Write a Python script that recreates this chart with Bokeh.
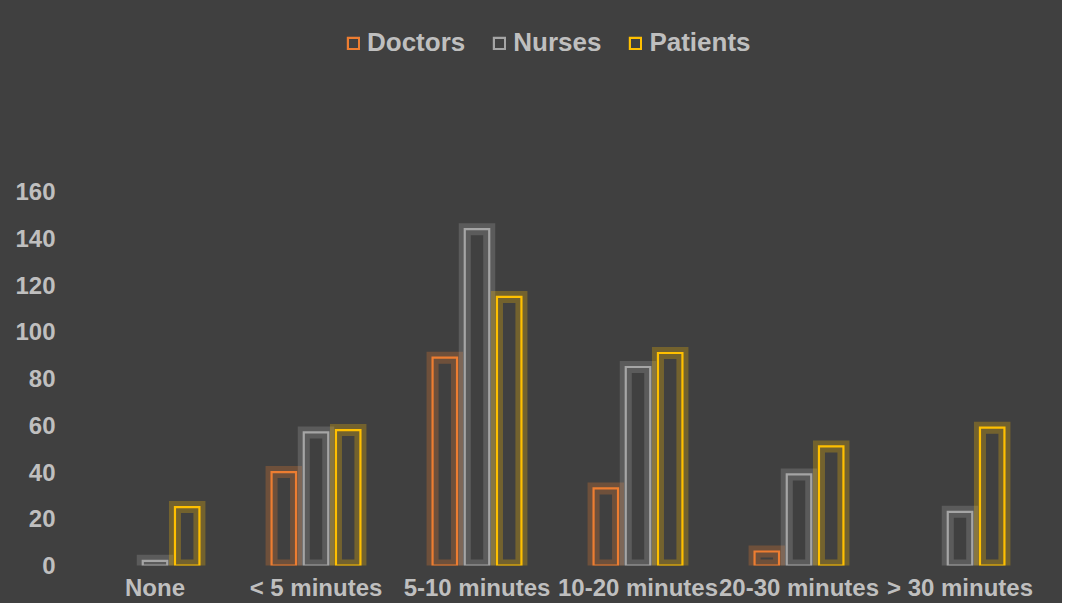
from bokeh.plotting import figure
from bokeh.models import ColumnDataSource, FactorRange, Range1d, FixedTicker, Legend, LegendItem
from bokeh.transform import dodge
from bokeh.embed import file_html
from bokeh.resources import INLINE

categories = ["None", "< 5 minutes", "5-10 minutes", "10-20 minutes", "20-30 minutes", "> 30 minutes"]
doctors = [0, 40, 89, 33, 6, 0]
nurses = [2, 57, 144, 85, 39, 23]
patients = [25, 58, 115, 91, 51, 59]
y_ticks = [0, 20, 40, 60, 80, 100, 120, 140, 160]

series = [
    ("Doctors", doctors, "#ED7D31", -0.2),
    ("Nurses", nurses, "#A5A5A5", 0.0),
    ("Patients", patients, "#FFC000", 0.2),
]

BG = "#404040"
TXT = "#BFBFBF"

p = figure(width=1062, height=603, x_range=FactorRange(*categories, range_padding=0),
           y_range=Range1d(0, 238.5), output_backend="svg", toolbar_location=None,
           min_border_left=74, min_border_right=22, min_border_top=8, min_border_bottom=36,
           styles={"background-color": BG})
p.background_fill_color = BG
p.border_fill_color = BG
p.outline_line_color = None
p.xgrid.grid_line_color = None
p.ygrid.grid_line_color = None

items = []
for name, vals, color, off in series:
    cats = [c for c, v in zip(categories, vals) if v > 0]
    tops = [v for v in vals if v > 0]
    src = ColumnDataSource(dict(x=cats, top=tops))
    p.vbar(x=dodge("x", off, range=p.x_range), top="top", bottom=0, width=0.152, source=src,
           fill_alpha=0, line_color=color, line_alpha=0.27, line_width=12, line_join="miter")
    r = p.vbar(x=dodge("x", off, range=p.x_range), top="top", bottom=0, width=0.152, source=src,
               fill_alpha=0, fill_color=None, line_color=color, line_width=2.2, line_join="miter")
    items.append(LegendItem(label=name, renderers=[r]))

legend = Legend(items=items, location=(272, 507), orientation="horizontal",
                background_fill_alpha=0, border_line_alpha=0,
                label_text_color=TXT, label_text_font="Liberation Sans",
                label_text_font_style="bold", label_text_font_size="26px",
                glyph_width=14, glyph_height=14, label_standoff=7, spacing=27,
                padding=0, margin=0, label_height=26)
p.add_layout(legend)

for ax in (p.xaxis, p.yaxis):
    ax.axis_line_color = None
    ax.major_tick_line_color = None
    ax.minor_tick_line_color = None
    ax.major_tick_in = 0
    ax.major_tick_out = 0
    ax.major_label_text_color = TXT
    ax.major_label_text_font = "Liberation Sans"
    ax.major_label_text_font_style = "bold"
    ax.major_label_text_font_size = "24px"

p.yaxis.ticker = FixedTicker(ticks=y_ticks)
p.yaxis.major_label_standoff = 19
p.xaxis.major_label_standoff = 8

open("out.html", "w").write(file_html(p, INLINE))
